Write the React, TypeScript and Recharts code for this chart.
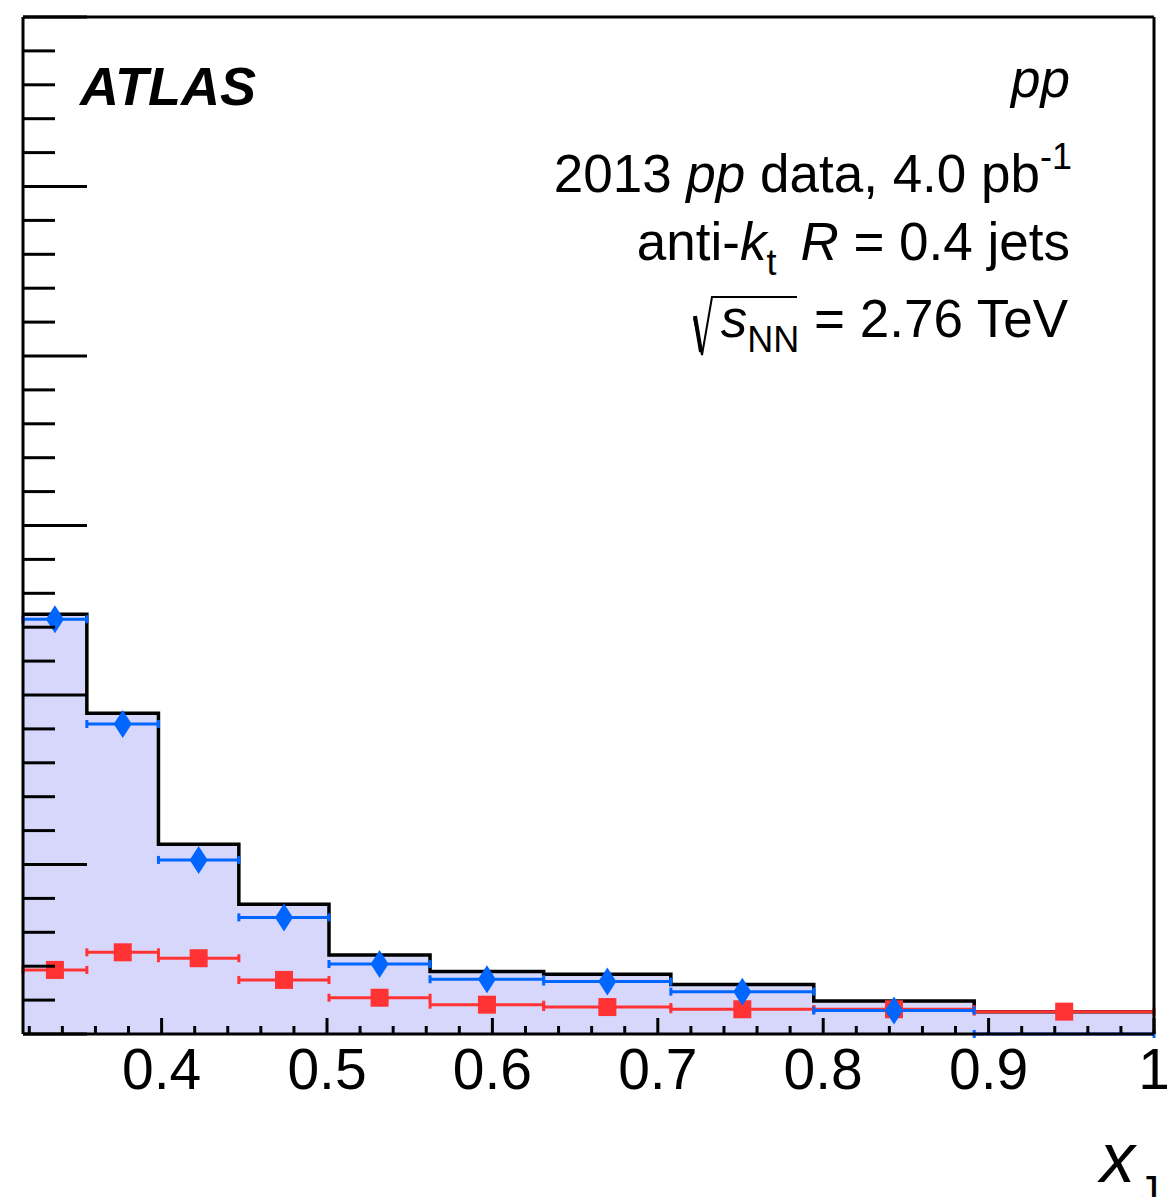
import {
  ComposedChart,
  Area,
  Scatter,
  ErrorBar,
  XAxis,
  YAxis,
} from "recharts";

// xJ bin edges (log-spaced) and bin centres
const binEdges = [0.3162, 0.3548, 0.3981, 0.4467, 0.5012, 0.5623, 0.631, 0.7079, 0.7943, 0.8913, 1.0];
const binCenters = [0.3355, 0.3765, 0.4224, 0.474, 0.5318, 0.5967, 0.6695, 0.7511, 0.8428, 0.9457];

// MC histogram (filled), blue diamonds, red squares
const mcValues = [2.476, 1.892, 1.119, 0.765, 0.466, 0.368, 0.352, 0.292, 0.195, 0.132];
const blueValues = [2.447, 1.829, 1.027, 0.688, 0.413, 0.323, 0.309, 0.25, 0.138, 0];
const redValues = [0.378, 0.482, 0.447, 0.319, 0.214, 0.173, 0.159, 0.146, 0.146, 0.132];

const xTicks = [
  0.32, 0.34, 0.36, 0.38, 0.4, 0.42, 0.44, 0.46, 0.48, 0.5, 0.52, 0.54, 0.56, 0.58,
  0.6, 0.62, 0.64, 0.66, 0.68, 0.7, 0.72, 0.74, 0.76, 0.78, 0.8, 0.82, 0.84, 0.86,
  0.88, 0.9, 0.92, 0.94, 0.96, 0.98, 1.0,
];
const yTicks = [
  0, 0.2, 0.4, 0.6, 0.8, 1, 1.2, 1.4, 1.6, 1.8, 2, 2.2, 2.4, 2.6, 2.8, 3, 3.2, 3.4,
  3.6, 3.8, 4, 4.2, 4.4, 4.6, 4.8, 5, 5.2, 5.4, 5.6, 5.8, 6,
];

const W = 1167;
const H = 1197;
const FONT = "'Liberation Sans', Arial, Helvetica, sans-serif";
const BLUE = "#0066ff";
const RED = "#ff3333";

const histData = binEdges.map((x, i) => ({
  x,
  y: mcValues[Math.min(i, mcValues.length - 1)],
}));

const toPoints = (vals: number[]) =>
  vals.map((y, i) => ({
    x: binCenters[i],
    y,
    ex: [binCenters[i] - binEdges[i], binEdges[i + 1] - binCenters[i]],
  }));

const blueData = toPoints(blueValues);
const redData = toPoints(redValues);

const isMajor = (v: number, step: number) =>
  Math.abs(v / step - Math.round(v / step)) < 1e-6;

function XTick(props: any) {
  const { x, y, payload } = props;
  const major = isMajor(payload.value, 0.1);
  return (
    <g>
      <line x1={x} x2={x} y1={y} y2={y - (major ? 16 : 8)} stroke="#000" strokeWidth={3} />
      {major && (
        <text x={x} y={y + 55} textAnchor="middle" fontSize={57} fontFamily={FONT} fill="#000">
          {String(Number(payload.value.toFixed(1)))}
        </text>
      )}
    </g>
  );
}

function YTick(props: any) {
  const { x, y, payload } = props;
  const major = isMajor(payload.value, 1);
  return <line x1={x} x2={x + (major ? 64 : 32)} y1={y} y2={y} stroke="#000" strokeWidth={3} />;
}

function Diamond(props: any) {
  const { cx, cy, payload } = props;
  if (!payload || payload.y <= 0) return <g />;
  return (
    <polygon
      points={`${cx},${cy - 14} ${cx + 9},${cy} ${cx},${cy + 14} ${cx - 9},${cy}`}
      fill={BLUE}
    />
  );
}

function Square(props: any) {
  const { cx, cy } = props;
  return <rect x={cx - 9} y={cy - 9} width={18} height={18} fill={RED} />;
}

function Labels() {
  const t = { fontFamily: FONT, fill: "#000" };
  return (
    <svg width={W} height={H} style={{ position: "absolute", left: 0, top: 0, pointerEvents: "none" }}>
      <text x={80} y={105} fontSize={54} fontWeight="bold" fontStyle="italic" {...t}>
        ATLAS
      </text>
      <text x={1070} y={97} fontSize={53} fontStyle="italic" textAnchor="end" {...t}>
        pp
      </text>
      <text x={1072} y={192} fontSize={53} textAnchor="end" {...t}>
        2013 <tspan fontStyle="italic">pp</tspan> data, 4.0 pb
        <tspan fontSize={36} dy={-23}>-1</tspan>
      </text>
      <text x={1070} y={260} fontSize={53} textAnchor="end" {...t}>
        anti-<tspan fontStyle="italic">k</tspan>
        <tspan fontSize={36} dy={15}>t</tspan>
        <tspan dy={-15} dx={24} fontStyle="italic">R</tspan> = 0.4 jets
      </text>
      <text x={1068} y={337} fontSize={53} textAnchor="end" {...t}>
        <tspan fontStyle="italic">s</tspan>
        <tspan fontSize={36} dy={15}>NN</tspan>
        <tspan dy={-15}> = 2.76 TeV</tspan>
      </text>
      <path d="M 694 318 L 702 355 L 712 297 L 797 297" fill="none" stroke="#000" strokeWidth={2} />
      <path d="M 695 316 L 701 352" fill="none" stroke="#000" strokeWidth={4} />
      <text x={1100} y={1182} fontSize={70} fontStyle="italic" {...t}>
        x
      </text>
      <text x={1138} y={1205} fontSize={42} {...t}>
        J
      </text>
    </svg>
  );
}

export default function App() {
  return (
    <div style={{ position: "absolute", left: 0, top: 0, width: W, height: H, background: "#fff" }}>
      <ComposedChart
        width={W}
        height={H}
        data={histData}
        margin={{ top: 16, right: 12, bottom: 162, left: 22 }}
      >
        <Area
          dataKey="y"
          type="stepAfter"
          stroke="#000"
          strokeWidth={3.5}
          fill="#d7d7fb"
          fillOpacity={1}
          dot={false}
          activeDot={false}
          isAnimationActive={false}
        />
        <Scatter data={redData} dataKey="y" shape={<Square />} isAnimationActive={false}>
          <ErrorBar dataKey="ex" direction="x" width={4} stroke={RED} strokeWidth={3} />
        </Scatter>
        <Scatter data={blueData} dataKey="y" shape={<Diamond />} isAnimationActive={false}>
          <ErrorBar dataKey="ex" direction="x" width={4} stroke={BLUE} strokeWidth={3} />
        </Scatter>
        <XAxis
          dataKey="x"
          type="number"
          domain={[0.3162, 1]}
          allowDataOverflow
          ticks={xTicks}
          interval={0}
          tick={<XTick />}
          tickLine={false}
          tickSize={0}
          tickMargin={0}
          height={1}
          axisLine={{ stroke: "#000", strokeWidth: 3 }}
        />
        <XAxis
          xAxisId="top"
          orientation="top"
          type="number"
          domain={[0.3162, 1]}
          allowDataOverflow
          tick={false}
          tickLine={false}
          height={1}
          axisLine={{ stroke: "#000", strokeWidth: 3 }}
        />
        <YAxis
          dataKey="y"
          type="number"
          domain={[0, 6]}
          allowDataOverflow
          ticks={yTicks}
          interval={0}
          tick={<YTick />}
          tickLine={false}
          tickSize={0}
          tickMargin={0}
          width={1}
          axisLine={{ stroke: "#000", strokeWidth: 3 }}
        />
        <YAxis
          yAxisId="right"
          orientation="right"
          type="number"
          domain={[0, 6]}
          tick={false}
          tickLine={false}
          width={1}
          axisLine={{ stroke: "#000", strokeWidth: 3 }}
        />
      </ComposedChart>
      <Labels />
    </div>
  );
}
